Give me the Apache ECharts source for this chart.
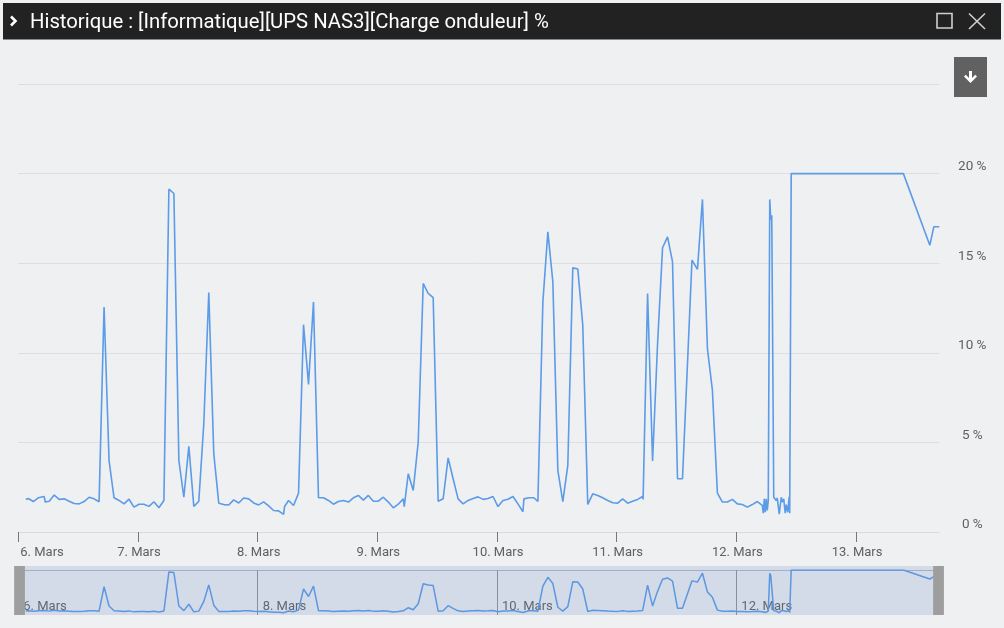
<!DOCTYPE html>
<html>
<head>
<meta charset="utf-8">
<script src="https://cdn.jsdelivr.net/npm/echarts@6/dist/echarts.min.js"></script>
<style>
html,body{margin:0;padding:0;background:#eff0f2;}
#c{width:1004px;height:628px;}
</style>
</head>
<body>
<div id="c"></div>
<script>
const titleText = 'Historique : [Informatique][UPS NAS3][Charge onduleur] %';
// day tick labels (one per day, starting 6 March 00:00)
const dayLabels = ['6. Mars', '7. Mars', '8. Mars', '9. Mars', '10. Mars', '11. Mars', '12. Mars', '13. Mars'];
const navDayIdx = [0, 2, 4, 6];
const yTicks = [0, 5, 10, 15, 20];
const axisMaxHours = 184.7;
// hours since 6 March 00:00
const hours = [
  1.5, 2.0, 3.0, 4.0, 5.2, 5.4, 6.2, 7.2, 8.2, 9.2,
  10.2, 11.2, 12.2, 13.2, 14.2, 15.2, 16.2, 17.2, 18.2, 19.2,
  20.2, 21.2, 22.2, 23.2, 24.2, 25.2, 26.2, 27.2, 28.2, 29.2,
  30.2, 31.2, 32.2, 33.2, 34.2, 35.2, 36.2, 37.2, 38.2, 39.2,
  40.2, 41.2, 42.2, 43.2, 44.2, 45.2, 46.2, 47.2, 48.2, 49.2,
  50.2, 51.2, 52.2, 53.2, 53.4, 54.2, 55.2, 56.2, 57.2, 58.2,
  59.2, 60.2, 61.2, 62.2, 63.2, 64.2, 65.2, 66.2, 67.2, 68.2,
  69.2, 70.2, 71.2, 72.2, 73.2, 74.2, 75.2, 76.2, 77.2, 77.4,
  78.2, 79.2, 80.2, 81.2, 82.2, 83.2, 84.2, 85.2, 86.2, 87.2,
  88.2, 89.2, 90.2, 91.2, 92.2, 93.2, 94.2, 95.2, 96.2, 97.2,
  98.2, 99.2, 100.2, 101.2, 101.4, 102.4, 103.4, 104.2, 105.2, 106.2,
  107.2, 108.2, 109.2, 110.2, 111.2, 112.2, 113.2, 114.2, 115.2, 116.2,
  117.2, 118.2, 119.2, 120.2, 121.2, 122.2, 123.2, 124.2, 125.2, 125.3,
  126.2, 127.2, 128.2, 129.2, 130.2, 131.2, 132.2, 133.2, 135.1, 136.2,
  137.2, 138.2, 139.2, 140.2, 141.2, 142.2, 143.2, 144.2, 145.2, 146.2,
  147.2, 148.2, 149.2, 149.4, 149.6, 149.8, 150.0, 150.2, 150.4, 150.7,
  150.9, 151.1, 151.5, 151.8, 152.0, 152.2, 152.6, 153.0, 153.2, 153.5,
  153.8, 154.0, 154.3, 154.6, 154.7, 155.0, 177.5, 182.8, 183.6, 184.7
];
// UPS load, %
const charge = [
  1.82, 1.87, 1.70, 1.91, 1.98, 1.67, 1.72, 2.06, 1.82, 1.85,
  1.72, 1.59, 1.57, 1.70, 1.94, 1.85, 1.69, 12.56, 3.99, 1.91,
  1.76, 1.57, 1.83, 1.39, 1.55, 1.55, 1.43, 1.69, 1.35, 1.76,
  19.13, 18.89, 3.99, 1.94, 4.78, 1.42, 1.72, 6.04, 13.36, 4.37,
  1.61, 1.53, 1.51, 1.79, 1.62, 1.90, 1.85, 1.62, 1.51, 1.68,
  1.46, 1.20, 1.18, 0.98, 1.42, 1.76, 1.48, 2.17, 11.57, 8.24,
  12.84, 1.91, 1.91, 1.76, 1.55, 1.70, 1.76, 1.67, 1.91, 2.04,
  1.78, 2.04, 1.72, 1.72, 1.94, 1.67, 1.35, 1.55, 1.85, 1.42,
  3.25, 2.32, 5.02, 13.87, 13.31, 13.08, 1.72, 1.85, 4.14, 2.97,
  1.85, 1.57, 1.76, 1.87, 1.96, 1.82, 1.87, 1.98, 1.42, 1.76,
  1.83, 1.98, 1.57, 1.13, 1.85, 1.91, 1.91, 1.70, 12.84, 16.75,
  13.96, 3.44, 1.70, 3.72, 14.74, 14.68, 11.54, 1.54, 2.13, 2.04,
  1.91, 1.76, 1.63, 1.61, 1.85, 1.61, 1.72, 1.82, 1.98, 1.82,
  13.31, 3.96, 10.51, 15.86, 16.47, 15.07, 2.97, 2.97, 15.17, 14.66,
  18.56, 10.23, 7.90, 2.17, 1.67, 1.67, 1.82, 1.57, 1.53, 1.39,
  1.53, 1.70, 1.48, 1.05, 1.85, 1.10, 1.85, 1.20, 1.76, 18.56,
  17.40, 17.68, 1.94, 1.98, 1.76, 1.90, 1.00, 1.94, 1.67, 1.85,
  1.05, 1.53, 1.10, 1.98, 1.05, 20.0, 20.0, 16.0, 17.03, 17.03
];

const seriesData = hours.map((h, i) => [h, charge[i]]);
const dayTicks = dayLabels.map((_, i) => i * 24);
const navTicks = navDayIdx.map(i => i * 24);
const dayFmt = v => dayLabels[Math.round(v / 24)] || '';
const FONT = 'Roboto';
const LINE = '#5b9be8';

const chart = echarts.init(document.getElementById('c'), null, {renderer: 'canvas'});
chart.setOption({
  animation: false,
  backgroundColor: '#eff0f2',
  title: {
    text: titleText,
    left: 25,
    top: 8,
    z: 10,
    textStyle: {color: '#ffffff', fontSize: 20.3, fontWeight: 'normal', fontFamily: FONT}
  },
  graphic: [
    {type: 'rect', z: 5, shape: {x: 3, y: 3, width: 998, height: 36.5}, style: {fill: '#222222'}},
    {type: 'polyline', z: 11, shape: {points: [[11, 16.5], [15.5, 21], [11, 25.5]]},
      style: {stroke: '#ffffff', lineWidth: 2.6, fill: null}},
    {type: 'rect', z: 11, shape: {x: 937, y: 13.5, width: 15, height: 14.5},
      style: {stroke: '#d0d0d0', lineWidth: 1.6, fill: null}},
    {type: 'line', z: 11, shape: {x1: 969, y1: 13.5, x2: 985, y2: 29}, style: {stroke: '#d0d0d0', lineWidth: 1.6}},
    {type: 'line', z: 11, shape: {x1: 985, y1: 13.5, x2: 969, y2: 29}, style: {stroke: '#d0d0d0', lineWidth: 1.6}}
  ],
  toolbox: {
    right: 17,
    top: 57,
    itemSize: 13,
    padding: [14, 10],
    backgroundColor: '#616161',
    showTitle: false,
    iconStyle: {color: '#ffffff', borderColor: '#ffffff', borderWidth: 0},
    emphasis: {iconStyle: {color: '#ffffff', borderColor: '#ffffff', borderWidth: 0}},
    feature: {
      myExport: {
        show: true,
        title: 'Exporter',
        icon: 'path://M5,0H8V7L11.3,3.8L13,5.6L6.5,12L0,5.6L1.7,3.8L5,7Z',
        onclick: function () {}
      }
    }
  },
  grid: [
    {left: 18.3, right: 64.7, top: 84, bottom: 96},
    {left: 18.3, right: 64.7, top: 570, bottom: 13}
  ],
  xAxis: [
    {
      type: 'value', gridIndex: 0, min: 0, max: axisMaxHours, interval: 24,
      axisLine: {show: true, lineStyle: {color: '#d9dadd', width: 1}},
      axisTick: {show: true, length: 10, customValues: dayTicks, lineStyle: {color: '#777777'}},
      splitLine: {show: false},
      axisLabel: {
        customValues: dayTicks, formatter: dayFmt, margin: 14, alignMinLabel: 'left',
        color: '#606060', fontSize: 13, fontFamily: FONT, padding: [0, 0, 0, 2]
      }
    },
    {
      type: 'value', gridIndex: 1, min: 0, max: axisMaxHours, interval: 48,
      axisLine: {show: false}, axisTick: {show: false},
      splitLine: {show: true, lineStyle: {color: '#8f939b', width: 1}},
      axisLabel: {
        customValues: navTicks, formatter: dayFmt, inside: true, margin: 2, align: 'left',
        color: '#606060', fontSize: 13, fontFamily: FONT, padding: [0, 0, 0, 5]
      }
    }
  ],
  yAxis: [
    {
      type: 'value', gridIndex: 0, position: 'right', min: 0, max: 25, interval: 5,
      axisLine: {show: false}, axisTick: {show: false},
      splitLine: {show: true, lineStyle: {color: '#dddee1', width: 1}},
      axisLabel: {
        customValues: yTicks, formatter: v => v + ' %', align: 'center', margin: 33,
        verticalAlign: 'bottom', lineHeight: 14,
        color: '#606060', fontSize: 13.5, fontFamily: FONT
      }
    },
    {
      type: 'value', gridIndex: 1, min: 0, max: 20, interval: 20,
      axisLine: {show: false}, axisTick: {show: false}, axisLabel: {show: false},
      splitLine: {show: true, lineStyle: {color: ['rgba(0,0,0,0)', '#b3bac7'], width: 1}}
    }
  ],
  dataZoom: [{
    type: 'slider',
    xAxisIndex: 0,
    filterMode: 'none',
    start: 0, end: 100,
    left: 18.3, right: 64.7, top: 566, height: 49,
    backgroundColor: 'rgba(0,0,0,0)',
    borderColor: 'rgba(0,0,0,0)',
    fillerColor: 'rgba(102,133,194,0.2)',
    showDataShadow: false,
    showDetail: false,
    brushSelect: false,
    moveHandleSize: 0,
    handleIcon: 'path://M0,0H22V100H0Z',
    handleSize: '100%',
    handleStyle: {color: '#9e9e9e', borderColor: '#9e9e9e', borderWidth: 0, shadowBlur: 0},
    emphasis: {handleStyle: {color: '#9e9e9e', borderColor: '#9e9e9e', shadowBlur: 0}},
    dataBackground: {lineStyle: {opacity: 0}, areaStyle: {opacity: 0}},
    selectedDataBackground: {lineStyle: {opacity: 0}, areaStyle: {opacity: 0}}
  }],
  series: [
    {
      type: 'line', name: 'Charge onduleur', xAxisIndex: 0, yAxisIndex: 0,
      data: seriesData, showSymbol: false, symbol: 'none', silent: true,
      lineStyle: {color: LINE, width: 1.6}, itemStyle: {color: LINE}
    },
    {
      type: 'line', name: 'Navigator', xAxisIndex: 1, yAxisIndex: 1,
      data: seriesData, showSymbol: false, symbol: 'none', silent: true,
      lineStyle: {color: LINE, width: 1.5}, itemStyle: {color: LINE}
    }
  ]
});
</script>
</body>
</html>
